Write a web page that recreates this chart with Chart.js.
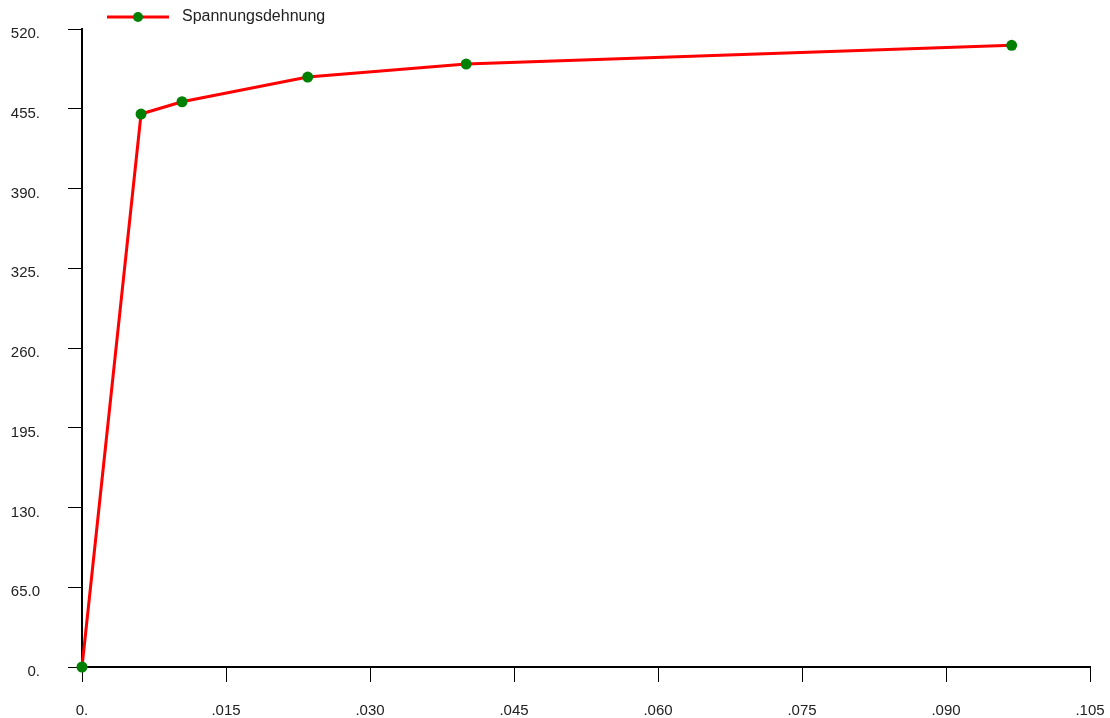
<!DOCTYPE html>
<html>
<head>
<meta charset="utf-8">
<script src="https://cdn.jsdelivr.net/npm/chart.js@4/dist/chart.umd.min.js"></script>
<style>
  html, body { margin: 0; padding: 0; background: #ffffff; }
  #wrap { width: 1110px; height: 718px; }
</style>
</head>
<body>
<div id="wrap"><canvas id="c" width="1110" height="718"></canvas></div>
<script>
// ---- data ----
const seriesName = 'Spannungsdehnung';
const strainValues = [0, 0.00615, 0.01042, 0.02351, 0.04002, 0.09684];
const stressValues = [0, 450.7, 460.7, 480.8, 491.4, 506.7];

const xTickValues = [0, 0.015, 0.030, 0.045, 0.060, 0.075, 0.090, 0.105];
const xTickLabels = ['0.', '.015', '.030', '.045', '.060', '.075', '.090', '.105'];
const yTickValues = [0, 65, 130, 195, 260, 325, 390, 455, 520];
const yTickLabels = ['0.', '65.0', '130.', '195.', '260.', '325.', '390.', '455.', '520.'];

const points = strainValues.map((x, i) => ({ x: x, y: stressValues[i] }));

// legend symbol (line with marker), drawn into a small canvas
const legendSym = document.createElement('canvas');
legendSym.width = 165; legendSym.height = 14;
(function () {
  const g = legendSym.getContext('2d');
  g.strokeStyle = '#ff0000'; g.lineWidth = 3;
  g.beginPath(); g.moveTo(98, 7); g.lineTo(160, 7); g.stroke();
  g.fillStyle = '#008000';
  g.beginPath(); g.arc(129, 7, 5, 0, Math.PI * 2); g.fill();
})();

const legendHeightFix = {
  id: 'legendHeightFix',
  afterInit(chart) {
    const lg = chart.legend;
    if (lg && !lg._patched) {
      const orig = lg.fit;
      lg.fit = function () { orig.call(this); this.height = 29; };
      lg._patched = true;
    }
  }
};

const tickFont = { family: "'Liberation Sans', Arial, sans-serif", size: 15 };

new Chart(document.getElementById('c'), {
  type: 'scatter',
  data: {
    datasets: [{
      label: seriesName,
      data: points,
      showLine: true,
      borderColor: '#ff0000',
      borderWidth: 3,
      backgroundColor: '#008000',
      pointBackgroundColor: '#008000',
      pointBorderColor: '#008000',
      pointBorderWidth: 0,
      pointRadius: 5.5,
      pointStyle: 'circle',
      tension: 0,
      clip: false
    }]
  },
  plugins: [legendHeightFix],
  options: {
    responsive: false,
    animation: false,
    events: [],
    layout: { padding: { left: 0, right: 20, top: 0, bottom: 0 } },
    plugins: {
      tooltip: { enabled: false },
      legend: {
        display: true,
        position: 'top',
        align: 'start',
        labels: {
          usePointStyle: true,
          pointStyleWidth: 165,
          padding: 9,
          color: '#222222',
          font: { family: "'Liberation Sans', Arial, sans-serif", size: 16 },
          generateLabels: () => [{
            text: seriesName,
            pointStyle: legendSym,
            fillStyle: '#008000',
            strokeStyle: '#ff0000',
            lineWidth: 0,
            hidden: false,
            datasetIndex: 0,
            fontColor: '#222222'
          }]
        }
      }
    },
    scales: {
      x: {
        type: 'linear',
        position: 'bottom',
        min: 0,
        max: 0.105,
        afterBuildTicks: (s) => { s.ticks = xTickValues.map(v => ({ value: v })); },
        afterFit: (s) => { s.height = 51; s.paddingLeft = 0; s.paddingRight = 0; },
        border: { display: true, color: '#000000', width: 2 },
        grid: { display: true, drawOnChartArea: false, drawTicks: true, tickLength: 15, color: '#000000', tickColor: '#000000', tickWidth: 1 },
        ticks: {
          color: '#222222',
          font: tickFont,
          padding: 20,
          maxRotation: 0,
          autoSkip: false,
          callback: (v, i) => xTickLabels[i]
        }
      },
      y: {
        type: 'linear',
        position: 'left',
        min: 0,
        max: 520,
        afterBuildTicks: (s) => { s.ticks = yTickValues.map(v => ({ value: v })); },
        afterFit: (s) => { s.width = 82; s.paddingTop = 0; s.paddingBottom = 0; },
        border: { display: true, color: '#000000', width: 2 },
        grid: { display: true, drawOnChartArea: false, drawTicks: true, tickLength: 14, color: '#000000', tickColor: '#000000', tickWidth: 1 },
        ticks: {
          color: '#222222',
          font: tickFont,
          padding: 28,
          labelOffset: 5,
          crossAlign: 'near',
          autoSkip: false,
          callback: (v, i) => yTickLabels[i]
        }
      }
    }
  }
});
</script>
</body>
</html>
